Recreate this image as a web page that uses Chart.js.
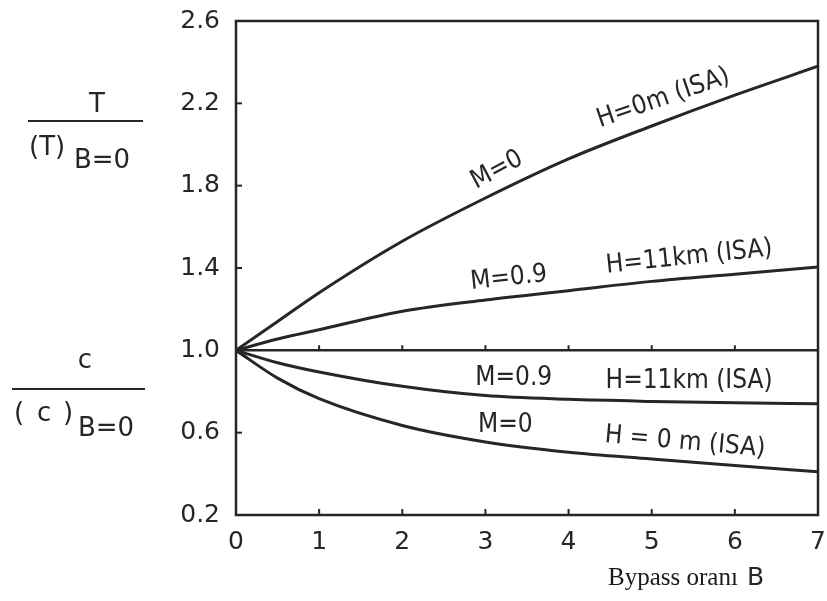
<!DOCTYPE html>
<html>
<head>
<meta charset="utf-8">
<script src="https://cdn.jsdelivr.net/npm/chart.js@4/dist/chart.umd.min.js"></script>
<style>
  html, body { margin: 0; padding: 0; background: #fff; }
  canvas { display: block; }
</style>
</head>
<body>
<canvas id="chart" width="827" height="601"></canvas>
<script>
// Bypass ratio B (x axis)
const bypassRatio = [0, 0.5, 1, 2, 3, 4, 5, 6, 7];

// Thrust ratio T / (T)B=0
const thrustM0 = [1.0, 1.14, 1.28, 1.53, 1.74, 1.93, 2.09, 2.24, 2.38];     // M=0, H=0 m
const thrustM09 = [1.0, 1.055, 1.10, 1.19, 1.245, 1.29, 1.335, 1.37, 1.405]; // M=0.9, H=11 km

// Specific fuel consumption ratio c / (c)B=0
const fuelM09 = [1.0, 0.94, 0.895, 0.825, 0.78, 0.762, 0.752, 0.745, 0.74]; // M=0.9, H=11 km
const fuelM0 = [1.0, 0.865, 0.765, 0.635, 0.555, 0.505, 0.472, 0.44, 0.41]; // M=0, H=0 m

// Divider between the two panels
const dividerB = [0, 7];
const dividerValue = [1.0, 1.0];

// Axis ticks
const xTickValues = [0, 1, 2, 3, 4, 5, 6, 7];
const yTickValues = [0.2, 0.6, 1.0, 1.4, 1.8, 2.2, 2.6];

// Curve captions, anchored in data coordinates
const captionText = ['M=0', 'H=0m (ISA)', 'M=0.9', 'H=11km (ISA)', 'M=0.9', 'H=11km (ISA)', 'M=0', 'H = 0 m (ISA)'];
const captionB = [3.14, 5.14, 3.28, 5.45, 3.34, 5.45, 3.24, 5.40];
const captionValue = [1.875, 2.224, 1.35, 1.452, 0.864, 0.849, 0.636, 0.553];
const captionAngle = [-28, -19, -6, -6, 0, 0, 0, 5];

const INK = '#262626';
const SANS = '"DejaVu Sans"';
const SANS_NARROW = '"DejaVu Sans Condensed", "DejaVu Sans"';

const toPoints = (xs, ys) => xs.map((x, i) => ({ x, y: ys[i] }));

const curveStyle = {
  borderColor: INK,
  borderWidth: 3,
  pointRadius: 0,
  fill: false,
  cubicInterpolationMode: 'monotone'
};

// fixed axis boxes, no extra room for overhanging tick labels
const fixBox = size => s => {
  if (s.isHorizontal()) s.height = size; else s.width = size;
  s.paddingTop = 0; s.paddingBottom = 0; s.paddingLeft = 0; s.paddingRight = 0;
};

const decorations = {
  id: 'decorations',
  afterDatasetsDraw(chart) {
    const { ctx, chartArea: a, scales: { x, y } } = chart;
    ctx.save();
    ctx.strokeStyle = INK;
    ctx.fillStyle = INK;
    ctx.lineCap = 'butt';

    // frame
    ctx.lineWidth = 2.5;
    ctx.strokeRect(a.left, a.top, a.right - a.left, a.bottom - a.top);

    // inward tick marks
    ctx.lineWidth = 2;
    const yDiv = y.getPixelForValue(1.0);
    xTickValues.slice(1, -1).forEach(v => {
      const px = x.getPixelForValue(v);
      ctx.beginPath();
      ctx.moveTo(px, a.bottom); ctx.lineTo(px, a.bottom - 6);
      ctx.moveTo(px, yDiv); ctx.lineTo(px, yDiv - 5);
      ctx.stroke();
    });
    yTickValues.slice(1, -1).forEach(v => {
      const py = y.getPixelForValue(v);
      ctx.beginPath();
      ctx.moveTo(a.left, py); ctx.lineTo(a.left + 6, py);
      ctx.stroke();
    });

    // curve captions
    ctx.font = '26px ' + SANS_NARROW;
    ctx.textAlign = 'center';
    ctx.textBaseline = 'middle';
    captionText.forEach((t, i) => {
      ctx.save();
      ctx.translate(x.getPixelForValue(captionB[i]), y.getPixelForValue(captionValue[i]));
      ctx.rotate(captionAngle[i] * Math.PI / 180);
      ctx.fillText(t, 0, 0);
      ctx.restore();
    });

    // y-axis titles as fractions
    ctx.textBaseline = 'alphabetic';
    ctx.font = '26px ' + SANS;
    ctx.textAlign = 'center';
    ctx.fillText('T', 97, 112);
    ctx.textAlign = 'left';
    ctx.fillText('(T)', 29, 155);
    ctx.fillText('B=0', 74, 168);
    ctx.lineWidth = 2;
    ctx.beginPath();
    ctx.moveTo(28, 121); ctx.lineTo(143, 121);
    ctx.stroke();

    ctx.textAlign = 'center';
    ctx.fillText('c', 85, 368);
    ctx.textAlign = 'left';
    ctx.fillText('(', 14, 421);
    ctx.fillText('c', 37, 421);
    ctx.fillText(')', 63, 421);
    ctx.fillText('B=0', 78, 436);
    ctx.beginPath();
    ctx.moveTo(12, 389); ctx.lineTo(145, 389);
    ctx.stroke();

    // x-axis title
    ctx.fillStyle = '#1a1a1a';
    ctx.font = '25px "Liberation Serif"';
    ctx.fillText('Bypass oranı', 608, 585);
    ctx.fillStyle = INK;
    ctx.font = '25px ' + SANS;
    ctx.fillText('B', 747, 585);

    ctx.restore();
  }
};

new Chart(document.getElementById('chart'), {
  type: 'line',
  data: {
    datasets: [
      { label: 'T, M=0', data: toPoints(bypassRatio, thrustM0), ...curveStyle },
      { label: 'T, M=0.9', data: toPoints(bypassRatio, thrustM09), ...curveStyle },
      { label: 'c, M=0.9', data: toPoints(bypassRatio, fuelM09), ...curveStyle },
      { label: 'c, M=0', data: toPoints(bypassRatio, fuelM0), ...curveStyle },
      { label: 'B=0 reference', data: toPoints(dividerB, dividerValue), ...curveStyle, borderWidth: 2.5 }
    ]
  },
  options: {
    responsive: false,
    animation: false,
    layout: { padding: { top: 21, right: 9, left: 0, bottom: 0 } },
    plugins: { legend: { display: false }, tooltip: { enabled: false } },
    scales: {
      x: {
        type: 'linear',
        min: 0, max: 7,
        grid: { display: false, drawTicks: false },
        border: { display: false },
        afterBuildTicks: s => { s.ticks = xTickValues.map(v => ({ value: v })); },
        afterFit: fixBox(86),
        ticks: {
          color: INK,
          font: { family: 'DejaVu Sans', size: 25 },
          padding: 12,
          maxRotation: 0,
          callback: v => String(v)
        }
      },
      y: {
        type: 'linear',
        min: 0.2, max: 2.6,
        grid: { display: false, drawTicks: false },
        border: { display: false },
        afterBuildTicks: s => { s.ticks = yTickValues.map(v => ({ value: v })); },
        afterFit: fixBox(236),
        ticks: {
          color: INK,
          font: { family: 'DejaVu Sans', size: 25 },
          padding: 16,
          callback: v => Number(v).toFixed(1)
        }
      }
    }
  },
  plugins: [decorations]
});
</script>
</body>
</html>
